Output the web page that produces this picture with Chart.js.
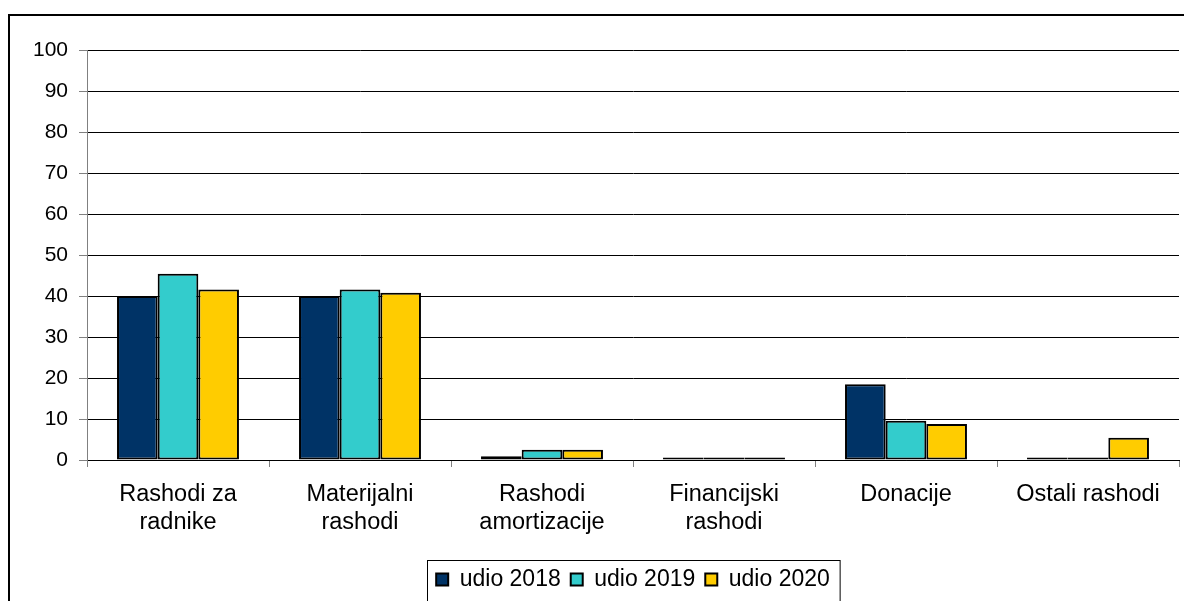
<!DOCTYPE html>
<html>
<head>
<meta charset="utf-8">
<script src="https://cdn.jsdelivr.net/npm/chart.js@4.4.1/dist/chart.umd.min.js"></script>
<style>
    html, body { margin: 0; padding: 0; background: #fff; }
    #wrap { width: 1184px; height: 601px; }
</style>
</head>
<body>
<div id="wrap"><canvas id="bar"></canvas></div>
<script>
// kategorije i udjeli (%)
const categories = [
    ['Rashodi za', 'radnike'],
    ['Materijalni', 'rashodi'],
    ['Rashodi', 'amortizacije'],
    ['Financijski', 'rashodi'],
    ['Donacije'],
    ['Ostali rashodi']
];
const udio2018 = [40.0, 40.0, 0.9, 0.6, 18.5, 0.6];
const udio2019 = [45.4, 41.6, 2.5, 0.6, 9.6, 0.6];
const udio2020 = [41.6, 40.8, 2.5, 0.6, 8.8, 5.4];
const seriesNames = ['udio 2018', 'udio 2019', 'udio 2020'];
const yTicks = [0, 10, 20, 30, 40, 50, 60, 70, 80, 90, 100];

const FONT = 'Arial, "Liberation Sans", sans-serif';

// okvir grafa i okvir legende
const framePlugin = {
    id: 'frame',
    beforeDraw(chart) {
        const ctx = chart.ctx;
        ctx.save();
        ctx.fillStyle = '#fff';
        ctx.fillRect(0, 0, chart.width, chart.height);
        ctx.strokeStyle = '#000';
        ctx.lineWidth = 2;
        ctx.strokeRect(9, 15, chart.width + 20, chart.height + 20);
        ctx.restore();
    },
    afterDraw(chart) {
        const boxes = chart.legend.legendHitBoxes;
        if (!boxes || !boxes.length) return;
        const left = Math.min(...boxes.map(b => b.left)) - 9;
        const right = Math.max(...boxes.map(b => b.left + b.width)) + 10;
        const top = Math.min(...boxes.map(b => b.top)) - 8;
        const ctx = chart.ctx;
        ctx.save();
        ctx.strokeStyle = '#000';
        ctx.lineWidth = 1;
        ctx.strokeRect(Math.round(left) + 0.5, Math.round(top) + 0.5, right - left, 80);
        ctx.restore();
    }
};

new Chart(document.getElementById('bar'), {
    type: 'bar',
    data: {
        labels: categories,
        datasets: [
            { label: seriesNames[0], data: udio2018, backgroundColor: '#003366' },
            { label: seriesNames[1], data: udio2019, backgroundColor: '#33CCCC' },
            { label: seriesNames[2], data: udio2020, backgroundColor: '#FFCC00' }
        ].map(d => Object.assign(d, { borderColor: '#000', borderWidth: 2, borderSkipped: false }))
    },
    options: {
        responsive: true,
        maintainAspectRatio: false,
        animation: false,
        layout: {
            padding: { left: 0, right: 5, top: 50, bottom: 0 }
        },
        datasets: {
            bar: {
                categoryPercentage: 0.67,
                barPercentage: 1.0
            }
        },
        plugins: {
            legend: {
                position: 'bottom',
                fullSize: false,
                labels: {
                    color: '#000',
                    font: { family: FONT, size: 23 },
                    boxWidth: 12,
                    boxHeight: 12,
                    padding: 10
                }
            },
            tooltip: { enabled: false }
        },
        scales: {
            x: {
                grid: {
                    drawOnChartArea: false,
                    drawTicks: true,
                    tickLength: 7,
                    color: '#808080'
                },
                border: { color: '#000', width: 1 },
                ticks: {
                    color: '#000',
                    font: { family: FONT, size: 23.5, lineHeight: 1.22 },
                    maxRotation: 0,
                    autoSkip: false,
                    padding: 13
                },
                afterFit(scale) {
                    scale.height = 98;
                }
            },
            y: {
                min: 0,
                max: 100,
                afterBuildTicks(scale) {
                    scale.ticks = yTicks.map(v => ({ value: v }));
                },
                grid: {
                    color: '#000',
                    tickLength: 8,
                    tickColor: '#808080'
                },
                border: { color: '#808080', width: 1 },
                ticks: {
                    color: '#000',
                    font: { family: FONT, size: 21 },
                    padding: 11
                },
                afterFit(scale) {
                    scale.width = 87;
                }
            }
        }
    },
    plugins: [framePlugin]
});
</script>
</body>
</html>
